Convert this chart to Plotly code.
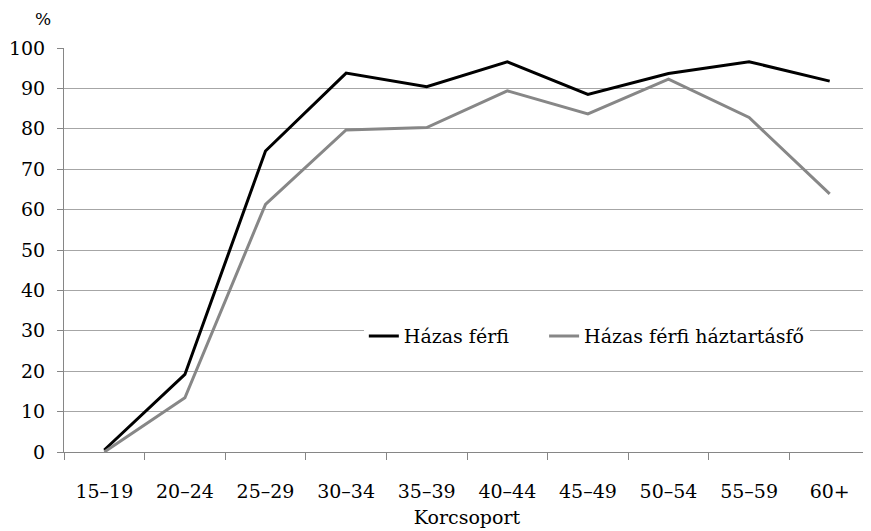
import plotly.graph_objects as go

categories = ["15–19", "20–24", "25–29", "30–34", "35–39", "40–44", "45–49", "50–54", "55–59", "60+"]
hazas_ferfi = [0.5, 19.2, 74.5, 93.8, 90.4, 96.6, 88.5, 93.7, 96.6, 91.8]
hazas_ferfi_haztartasfo = [0.0, 13.4, 61.3, 79.7, 80.3, 89.4, 83.7, 92.3, 82.8, 63.9]
y_ticks = [0, 10, 20, 30, 40, 50, 60, 70, 80, 90, 100]
series_names = ["Házas férfi", "Házas férfi háztartásfő"]

FONT = "DejaVu Serif"
FS = 19
PAD = "\u00a0" * 5

fig = go.Figure()
fig.add_trace(go.Scatter(x=categories, y=hazas_ferfi, mode="lines", name=series_names[0] + PAD,
                         line=dict(color="#000000", width=3)))
fig.add_trace(go.Scatter(x=categories, y=hazas_ferfi_haztartasfo, mode="lines",
                         name=series_names[1],
                         line=dict(color="#878787", width=3)))

fig.update_layout(
    width=863, height=523,
    margin=dict(l=56, r=1, t=40, b=79, autoexpand=False),
    paper_bgcolor="white", plot_bgcolor="white",
    font=dict(family=FONT, size=FS, color="#000000"),
    showlegend=True,
    legend=dict(orientation="h", x=0.372, y=0.287, xanchor="left", yanchor="middle",
                bgcolor="white", font=dict(family=FONT, size=FS),
                itemwidth=30, tracegroupgap=0),
    xaxis=dict(
        type="category", range=[-0.5, 9.5], automargin=False,
        showline=True, linecolor="#868686", linewidth=1,
        ticks="outside", tickson="boundaries", ticklen=7, tickcolor="#868686",
        ticklabelstandoff=22,
        showgrid=False, zeroline=False,
        tickfont=dict(family=FONT, size=FS),
        title=dict(text="Korcsoport", font=dict(family=FONT, size=FS), standoff=9),
    ),
    yaxis=dict(
        range=[0, 100], tickvals=y_ticks, automargin=False,
        showline=True, linecolor="#868686", linewidth=1,
        ticks="outside", ticklen=6, tickcolor="#868686",
        ticklabelstandoff=8,
        showgrid=True, gridcolor="#a6a6a6", gridwidth=1, zeroline=False,
        tickfont=dict(family=FONT, size=FS),
    ),
    annotations=[dict(text="%", xref="paper", yref="paper", x=-0.0136, y=1.072,
                      xanchor="right", yanchor="middle", showarrow=False,
                      font=dict(family=FONT, size=17))],
)

fig.write_html("out.html")
